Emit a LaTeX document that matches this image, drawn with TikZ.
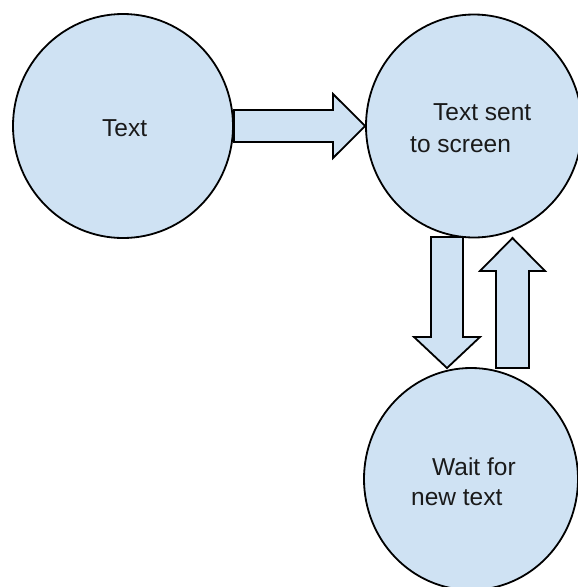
\documentclass[tikz,border=0pt]{standalone}
\usepackage{fontspec}
\setmainfont{Liberation Sans}
\usetikzlibrary{shapes.geometric}
\definecolor{bubble}{HTML}{CFE2F3}
\definecolor{ink}{HTML}{000000}
\definecolor{textgrey}{HTML}{1A1A1A}
\tikzset{
  bubble/.style={ellipse, draw=ink, line width=1.8pt, fill=bubble, inner sep=0pt},
  blockarrow/.style={draw=ink, line width=1.8pt, fill=bubble, line join=miter},
  words/.style={anchor=base west, inner sep=0pt, text=textgrey,
                font=\fontsize{24.5}{30}\selectfont},
}
\begin{document}
\begin{tikzpicture}[x=1pt, y=-1pt]
  \useasboundingbox (0,0) rectangle (578,587);

  % the three states
  \node[bubble, minimum width=220pt, minimum height=224pt] (input) at (123,126) {};
  \node[bubble, minimum width=216pt, minimum height=223pt] (screen) at (474,126) {};
  \node[bubble, minimum width=214pt, minimum height=222pt] (wait) at (471,479) {};

  % labels
  \node[words] (inputA) at (102,136) {Text};
  \node[words] (screenA) at (433,120) {Text sent};
  \node[words] (screenB) at (410,152) {to screen};
  \node[words] (waitA) at (432,475) {Wait for};
  \node[words] (waitB) at (411,505) {new text};

  % block arrows between the states
  \draw[blockarrow] (input.east |- 0,110) -- (333,110) -- (333,94) -- (screen.west)
    -- (333,158) -- (333,142) -- (input.east |- 0,142) -- cycle;
  \draw[blockarrow] (431,237) -- (463,237) -- (463,337) -- (480,337) -- (447,368)
    -- (414,337) -- (431,337) -- cycle;
  \draw[blockarrow] (496,368) -- (496,271) -- (480,271) -- (512.5,238) -- (545,271)
    -- (529,271) -- (529,368) -- cycle;
\end{tikzpicture}
\end{document}
